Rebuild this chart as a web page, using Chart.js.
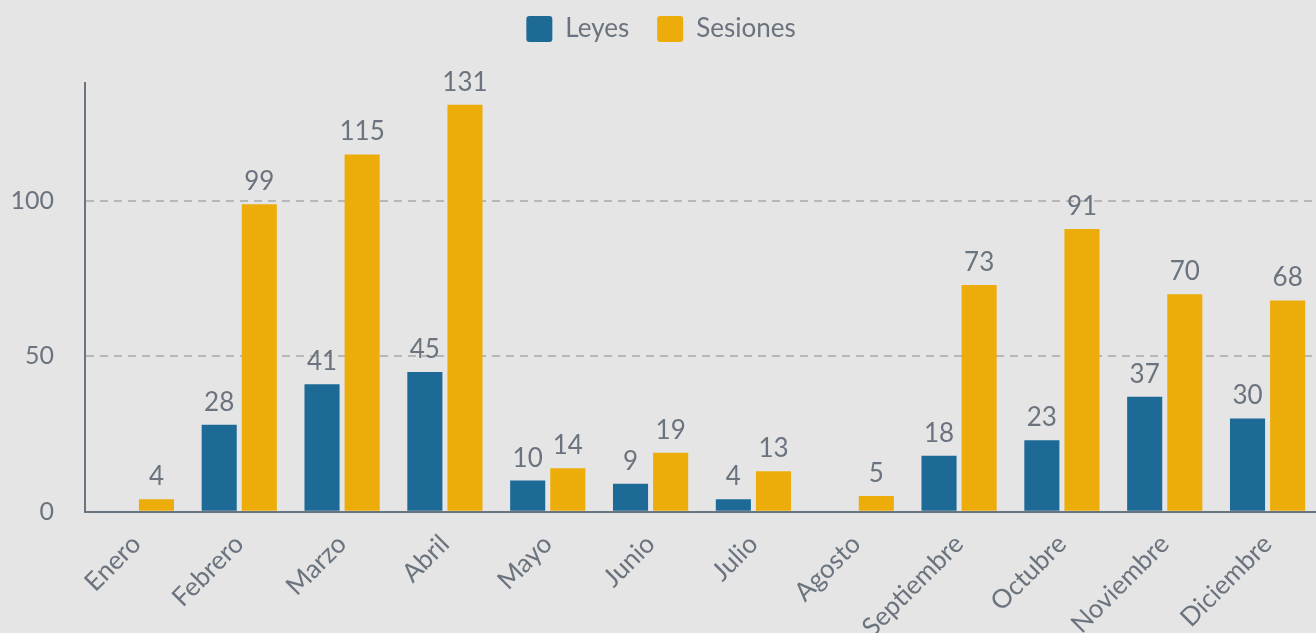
<!DOCTYPE html>
<html lang="es">
<head>
<meta charset="utf-8">
<title>Leyes y sesiones por mes</title>
<script src="https://cdn.jsdelivr.net/npm/chart.js@4.4.1/dist/chart.umd.min.js"></script>
<style>
  html, body { margin: 0; padding: 0; background: #e5e5e5; overflow: hidden; width: 1316px; height: 633px; }
  #wrap { position: absolute; left: 0; top: 0; width: 1322px; height: 660px; }
</style>
</head>
<body>
<div id="wrap"><canvas id="chart"></canvas></div>
<script>
// Monthly counts
const months = ['Enero', 'Febrero', 'Marzo', 'Abril', 'Mayo', 'Junio', 'Julio', 'Agosto', 'Septiembre', 'Octubre', 'Noviembre', 'Diciembre'];
const leyes = [0, 28, 41, 45, 10, 9, 4, 0, 18, 23, 37, 30];
const sesiones = [4, 99, 115, 131, 14, 19, 13, 5, 73, 91, 70, 68];
const yTickValues = [0, 50, 100];
const yMax = 138;

const TEXT = '#6b747e';
const AXIS = '#6b7580';
const GRID = '#b7b7b7';
const BLUE = '#1d6a96';
const YELLOW = '#ecad0a';
const FONT = 'Lato';

// Value written above each non-zero bar
const valueLabels = {
  id: 'valueLabels',
  afterDatasetsDraw(chart) {
    const ctx = chart.ctx;
    ctx.save();
    ctx.font = '26px ' + FONT;
    ctx.fillStyle = TEXT;
    ctx.textAlign = 'center';
    ctx.textBaseline = 'alphabetic';
    chart.data.datasets.forEach((ds, i) => {
      const meta = chart.getDatasetMeta(i);
      meta.data.forEach((bar, j) => {
        const v = ds.data[j];
        if (!v) return;
        ctx.fillText(String(v), bar.x, bar.y - 14);
      });
    });
    ctx.restore();
  }
};

// Pull the legend row up closer to the top edge
const legendOffset = {
  id: 'legendOffset',
  afterLayout(chart) {
    if (chart.legend) {
      chart.legend.top -= 31;
      chart.legend.bottom -= 31;
    }
  }
};

new Chart(document.getElementById('chart'), {
  type: 'bar',
  data: {
    labels: months,
    datasets: [
      { label: 'Leyes', data: leyes, backgroundColor: BLUE, categoryPercentage: 0.78, barPercentage: 0.875 },
      { label: 'Sesiones', data: sesiones, backgroundColor: YELLOW, categoryPercentage: 0.78, barPercentage: 0.875 }
    ]
  },
  options: {
    responsive: true,
    maintainAspectRatio: false,
    animation: false,
    layout: { padding: { left: 3, right: 3, top: 19, bottom: 0 } },
    plugins: {
      legend: {
        position: 'top',
        labels: {
          font: { family: FONT, size: 26 },
          color: TEXT,
          boxWidth: 26,
          boxHeight: 26,
          padding: 28,
          useBorderRadius: true,
          borderRadius: 3
        }
      },
      tooltip: { enabled: false }
    },
    scales: {
      x: {
        grid: { display: false, drawTicks: false },
        border: { display: true, color: AXIS, width: 2 },
        ticks: {
          color: TEXT,
          font: { family: FONT, size: 26 },
          minRotation: 45,
          maxRotation: 45,
          padding: 17
        }
      },
      y: {
        min: 0,
        max: yMax,
        afterBuildTicks(scale) {
          scale.ticks = yTickValues.map(v => ({ value: v }));
        },
        afterFit(scale) {
          scale.width = 82;
        },
        grid: {
          drawTicks: false,
          lineWidth: 2,
          color: ctx => (ctx.tick && ctx.tick.value === 0 ? 'rgba(0,0,0,0)' : GRID)
        },
        border: { display: true, color: AXIS, width: 2, dash: [8, 6] },
        ticks: {
          color: TEXT,
          font: { family: FONT, size: 25 },
          padding: 31
        }
      }
    }
  },
  plugins: [valueLabels, legendOffset]
});
</script>
</body>
</html>
